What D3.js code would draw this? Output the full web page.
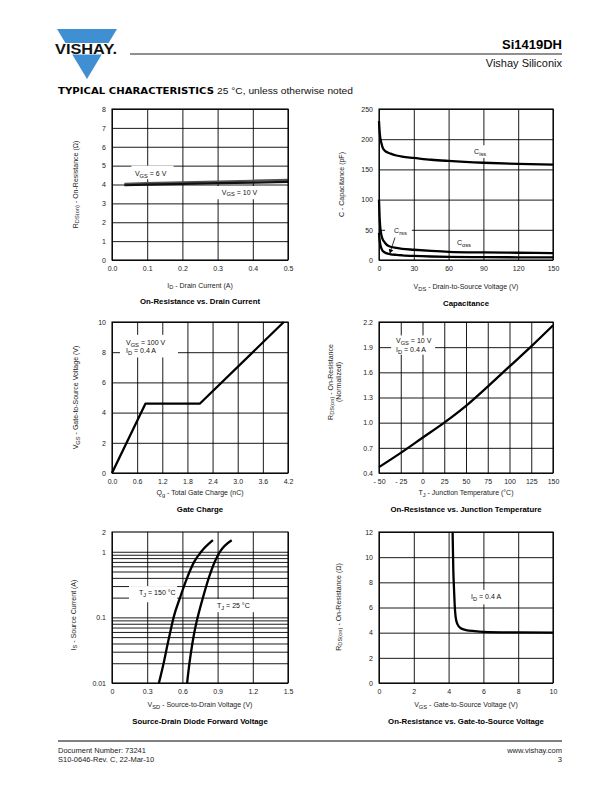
<!DOCTYPE html>
<html>
<head>
<meta charset="utf-8">
<script src="https://cdn.jsdelivr.net/npm/d3@7"></script>
<style>
  body { margin: 0; background: #fff; }
</style>
</head>
<body>
<div id="page"></div>
<script>
// ---- data ----

// On-Resistance vs. Drain Current
const drainCurrent = [0.035, 0.1, 0.2, 0.3, 0.4, 0.5];
const rdsVgs6 = [4.04, 4.07, 4.11, 4.16, 4.20, 4.24];
const rdsVgs10 = [3.96, 3.99, 4.03, 4.07, 4.10, 4.14];

// Capacitance
const capVds = [0, 0.5, 1, 2, 3, 5, 7.5, 10, 15, 20, 30, 45, 60, 90, 120, 150];
const ciss = [230, 214, 204, 194, 187, 181, 178, 176, 173, 171, 169, 166, 164, 161, 159, 158];
const coss = [100, 72, 56, 42, 35, 29, 24, 22, 20, 18.5, 17, 15, 13.5, 12.5, 12, 11.5];
const crss = [45, 34, 27, 19.5, 15.5, 12.5, 10.5, 9.5, 8.5, 7.8, 6.8, 5.8, 5.2, 4.8, 4.5, 4.3];

// Gate Charge
const gateCharge = [0, 0.8, 2.1, 4.1];
const gateVoltage = [0, 4.6, 4.6, 10];

// On-Resistance vs. Junction Temperature
const junctionTemp = [-50, -25, 0, 25, 50, 75, 100, 125, 150];
const rdsNormalized = [0.47, 0.64, 0.82, 1.0, 1.2, 1.43, 1.67, 1.91, 2.16];

// Source-Drain Diode Forward Voltage
const isCurrent = [0.01, 0.02, 0.04, 0.07, 0.1, 0.2, 0.4, 0.7, 1.0, 1.5];
const vsd150 = [0.40, 0.44, 0.475, 0.505, 0.525, 0.58, 0.64, 0.70, 0.76, 0.86];
const vsd25 = [0.64, 0.66, 0.685, 0.71, 0.73, 0.775, 0.825, 0.875, 0.92, 1.02];

// On-Resistance vs. Gate-to-Source Voltage
const gsVoltage = [4.23, 4.27, 4.31, 4.35, 4.4, 4.5, 4.7, 5, 5.5, 6, 8, 10];
const rdsVsVgs = [12, 9, 7.5, 6.2, 5.3, 4.7, 4.35, 4.2, 4.12, 4.07, 4.02, 4.0];

// ---- drawing ----
const FONT = "'Liberation Sans', Arial, Helvetica, sans-serif";
const BLUE = '#3f8fd2';

const svg = d3.select('#page').append('svg')
  .attr('width', 612).attr('height', 792)
  .style('background', '#fff');

// text with subscripts: parts like ['R', ['DS(on)'], ' - On-Resistance']
function rich(parent, x, y, parts, size, opts = {}) {
  const t = parent.append('text')
    .attr('x', x).attr('y', y)
    .attr('font-family', FONT)
    .attr('font-size', size)
    .attr('fill', opts.fill || '#222')
    .attr('text-anchor', opts.anchor || 'middle');
  if (opts.bold) t.attr('font-weight', 'bold');
  if (opts.rotate) t.attr('transform', `rotate(-90,${x},${y})`);
  let down = false;
  parts.forEach(p => {
    const sub = Array.isArray(p);
    const s = t.append('tspan').text(sub ? p[0] : p);
    if (sub) {
      s.attr('font-size', size * 0.82);
      if (!down) { s.attr('dy', size * 0.28); down = true; }
    } else if (down) {
      s.attr('dy', -size * 0.28); down = false;
    }
  });
  return t;
}

function panel(o) {
  const x = d3.scaleLinear().domain(o.xDom).range([o.left, o.right]);
  const y = (o.log ? d3.scaleLog() : d3.scaleLinear()).domain(o.yDom).range([o.bottom, o.top]);
  const g = svg.append('g');
  const w = o.right - o.left, h = o.bottom - o.top;

  // vertical grid and x tick labels
  g.append('g')
    .attr('transform', `translate(0,${o.bottom})`)
    .call(d3.axisBottom(x).tickValues(o.xTicks).tickSize(-h).tickSizeOuter(0)
      .tickPadding(6).tickFormat((d, i) => o.xLabels[i]))
    .call(s => s.select('.domain').remove())
    .call(s => s.selectAll('line').attr('stroke', '#000').attr('stroke-width', 0.9))
    .call(s => s.selectAll('text').attr('font-size', 7).attr('font-family', FONT).attr('fill', '#222'));

  // horizontal grid
  g.append('g')
    .attr('transform', `translate(${o.left},0)`)
    .call(d3.axisLeft(y).tickValues(o.yGrid || o.yTicks).tickSize(-w).tickSizeOuter(0).tickFormat(''))
    .call(s => s.select('.domain').remove())
    .call(s => s.selectAll('line').attr('stroke', '#000').attr('stroke-width', 0.9));

  // y tick labels
  g.append('g')
    .attr('transform', `translate(${o.left},0)`)
    .call(d3.axisLeft(y).tickValues(o.yTicks).tickSize(0).tickPadding(6)
      .tickFormat((d, i) => o.yLabels[i]))
    .call(s => s.select('.domain').remove())
    .call(s => s.selectAll('text').attr('font-size', 7).attr('font-family', FONT).attr('fill', '#222'));

  const notes = svg.append('g');
  const marks = svg.append('g');
  svg.append('rect')
    .attr('x', o.left).attr('y', o.top).attr('width', w).attr('height', h)
    .attr('fill', 'none').attr('stroke', '#000').attr('stroke-width', 1.1);

  // white box behind an annotation (cuts the grid)
  function box(xa, xb, ya, yb) {
    notes.append('rect')
      .attr('x', Math.min(x(xa), x(xb))).attr('y', Math.min(y(ya), y(yb)))
      .attr('width', Math.abs(x(xb) - x(xa))).attr('height', Math.abs(y(yb) - y(ya)))
      .attr('fill', '#fff');
  }
  function curve(xs, ys, opts = {}) {
    const line = d3.line().x(d => x(d[0])).y(d => y(d[1]))
      .curve(opts.linear ? d3.curveLinear : d3.curveMonotoneX);
    marks.append('path')
      .attr('d', line(xs.map((v, i) => [v, ys[i]])))
      .attr('fill', 'none')
      .attr('stroke', opts.color || '#000')
      .attr('stroke-width', opts.width || 2.3)
      .attr('stroke-linejoin', 'round');
  }
  function label(xv, yv, parts, size = 7) {
    return rich(marks, x(xv), y(yv), parts, size, { anchor: 'start', fill: '#111' });
  }
  return { x, y, box, curve, label, marks };
}

function titles(o, xTitle, yTitle, title, yTitleX, yTitleY, rowTitleY) {
  const cx = (o.left + o.right) / 2;
  rich(svg, cx, rowTitleY, xTitle, 7);
  rich(svg, cx, rowTitleY + 16.5, [title], 7.8, { bold: true, fill: '#000' });
  if (yTitle) rich(svg, yTitleX, yTitleY, yTitle, 7, { rotate: true });
}

const L = { left: 112, right: 288 };
const R = { left: 379, right: 553 };
const ROW1 = { top: 109, bottom: 260 };
const ROW2 = { top: 322, bottom: 473 };
const ROW3 = { top: 532, bottom: 683 };

// ---------- 1. On-Resistance vs. Drain Current ----------
{
  const o = Object.assign({}, L, ROW1, {
    xDom: [0, 0.5], yDom: [0, 8],
    xTicks: [0, 0.1, 0.2, 0.3, 0.4, 0.5], xLabels: ['0.0', '0.1', '0.2', '0.3', '0.4', '0.5'],
    yTicks: d3.range(0, 9), yLabels: d3.range(0, 9).map(String)
  });
  const p = panel(o);
  p.box(0.055, 0.175, 5.0, 4.28);
  p.box(0.295, 0.418, 3.92, 3.22);
  p.curve(drainCurrent, rdsVgs6, { color: '#555', width: 2.2, linear: true });
  p.curve(drainCurrent, rdsVgs10, { color: '#111', width: 2.2, linear: true });
  p.label(0.065, 4.45, ['V', ['GS'], ' = 6 V']);
  p.label(0.312, 3.47, ['V', ['GS'], ' = 10 V']);
  titles(o, ['I', ['D'], ' - Drain Current (A)'], ['R', ['DS(on)'], ' - On-Resistance (Ω)'],
    'On-Resistance vs. Drain Current', 77.5, 184.5, 287.5);
}

// ---------- 2. Capacitance ----------
{
  const o = Object.assign({}, R, ROW1, {
    xDom: [0, 150], yDom: [0, 250],
    xTicks: [0, 30, 60, 90, 120, 150], xLabels: ['0', '30', '60', '90', '120', '150'],
    yTicks: [0, 50, 100, 150, 200, 250], yLabels: ['0', '50', '100', '150', '200', '250']
  });
  const p = panel(o);
  p.box(79.5, 96.5, 190, 169);
  p.box(5.2, 28.4, 56, 36.5);
  p.curve(capVds, ciss);
  p.curve(capVds, coss);
  p.curve(capVds, crss);
  p.label(82, 175.5, ['C', ['iss']]);
  p.label(13, 44, ['C', ['rss']]);
  p.label(67.2, 24.8, ['C', ['oss']]);
  // pointer from the Crss label down to its curve
  p.marks.append('line')
    .attr('x1', p.x(13.8)).attr('y1', p.y(37.3))
    .attr('x2', p.x(10.2)).attr('y2', p.y(16.5))
    .attr('stroke', '#000').attr('stroke-width', 0.8);
  p.marks.append('path')
    .attr('d', d3.symbol(d3.symbolTriangle, 10)())
    .attr('transform', `translate(${p.x(10.0)},${p.y(15.2)}) rotate(198)`)
    .attr('fill', '#000');
  titles(o, ['V', ['DS'], ' - Drain-to-Source Voltage (V)'], ['C - Capacitance (pF)'],
    'Capacitance', 343.5, 184.5, 289);
}

// ---------- 3. Gate Charge ----------
{
  const o = Object.assign({}, L, ROW2, {
    xDom: [0, 4.2], yDom: [0, 10],
    xTicks: [0, 0.6, 1.2, 1.8, 2.4, 3.0, 3.6, 4.2],
    xLabels: ['0.0', '0.6', '1.2', '1.8', '2.4', '3.0', '3.6', '4.2'],
    yTicks: [0, 2, 4, 6, 8, 10], yLabels: ['0', '2', '4', '6', '8', '10']
  });
  const p = panel(o);
  p.box(0.19, 1.575, 9.15, 7.65);
  p.curve(gateCharge, gateVoltage, { linear: true });
  p.label(0.334, 8.5, ['V', ['GS'], ' = 100 V']);
  p.label(0.334, 7.93, ['I', ['D'], ' = 0.4 A']);
  titles(o, ['Q', ['g'], ' - Total Gate Charge (nC)'], ['V', ['GS'], ' - Gate-to-Source Voltage (V)'],
    'Gate Charge', 78, 397.5, 495);
}

// ---------- 4. On-Resistance vs. Junction Temperature ----------
{
  const o = Object.assign({}, R, ROW2, {
    xDom: [-50, 150], yDom: [0.4, 2.2],
    xTicks: [-50, -25, 0, 25, 50, 75, 100, 125, 150],
    xLabels: ['- 50', '- 25', '0', '25', '50', '75', '100', '125', '150'],
    yTicks: [0.4, 0.7, 1.0, 1.3, 1.6, 1.9, 2.2],
    yLabels: ['0.4', '0.7', '1.0', '1.3', '1.6', '1.9', '2.2']
  });
  const p = panel(o);
  p.box(-36, 14.5, 2.04, 1.81);
  p.curve(junctionTemp, rdsNormalized);
  p.label(-30.5, 1.945, ['V', ['GS'], ' = 10 V']);
  p.label(-30.5, 1.845, ['I', ['D'], ' = 0.4 A']);
  titles(o, ['T', ['J'], ' - Junction Temperature (°C)'], null,
    'On-Resistance vs. Junction Temperature', 0, 0, 495);
  rich(svg, 332.5, 382, ['R', ['DS(on)'], ' - On-Resistance'], 7, { rotate: true });
  rich(svg, 341, 382, ['(Normalized)'], 7, { rotate: true });
}

// ---------- 5. Source-Drain Diode Forward Voltage ----------
{
  const minor = [];
  [0.01, 0.1].forEach(dec => d3.range(1, 10).forEach(k => minor.push(dec * k)));
  minor.push(1);
  const o = Object.assign({}, L, ROW3, {
    log: true,
    xDom: [0, 1.5], yDom: [0.01, 2],
    xTicks: [0, 0.3, 0.6, 0.9, 1.2, 1.5], xLabels: ['0', '0.3', '0.6', '0.9', '1.2', '1.5'],
    yTicks: [0.01, 0.1, 1, 2], yLabels: ['0.01', '0.1', '1', '2'],
    yGrid: minor
  });
  const p = panel(o);
  p.box(0.145, 0.555, 0.3, 0.17);
  p.box(0.86, 1.23, 0.19, 0.12);
  p.curve(vsd150, isCurrent);
  p.curve(vsd25, isCurrent);
  p.label(0.23, 0.222, ['T', ['J'], ' = 150 °C']);
  p.label(0.895, 0.138, ['T', ['J'], ' = 25 °C']);
  titles(o, ['V', ['SD'], ' - Source-to-Drain Voltage (V)'], ['I', ['S'], ' - Source Current (A)'],
    'Source-Drain Diode Forward Voltage', 75.5, 615, 707);
}

// ---------- 6. On-Resistance vs. Gate-to-Source Voltage ----------
{
  const o = Object.assign({}, R, ROW3, {
    xDom: [0, 10], yDom: [0, 12],
    xTicks: [0, 2, 4, 6, 8, 10], xLabels: ['0', '2', '4', '6', '8', '10'],
    yTicks: [0, 2, 4, 6, 8, 10, 12], yLabels: ['0', '2', '4', '6', '8', '10', '12']
  });
  const p = panel(o);
  p.box(5.05, 6.95, 7.4, 6.25);
  p.curve(gsVoltage, rdsVsVgs);
  p.label(5.29, 6.68, ['I', ['D'], ' = 0.4 A']);
  titles(o, ['V', ['GS'], ' - Gate-to-Source Voltage (V)'], ['R', ['DS(on)'], ' - On-Resistance (Ω)'],
    'On-Resistance vs. Gate-to-Source Voltage', 340.5, 607, 707);
}

// ---------- page header ----------
svg.append('path')
  .attr('d', 'M57,29 L117,29 L87,79 Z')
  .attr('fill', BLUE);
svg.append('rect').attr('x', 50).attr('y', 43).attr('width', 72).attr('height', 11.5).attr('fill', '#fff');
svg.append('text')
  .attr('x', 55).attr('y', 54)
  .attr('font-family', FONT).attr('font-weight', 'bold').attr('font-size', 14.5)
  .attr('textLength', 62).attr('lengthAdjust', 'spacingAndGlyphs')
  .attr('fill', '#111')
  .text('VISHAY.');
svg.append('line')
  .attr('x1', 130).attr('x2', 562).attr('y1', 54).attr('y2', 54)
  .attr('stroke', '#222').attr('stroke-width', 1.2);
svg.append('text')
  .attr('x', 562).attr('y', 49).attr('text-anchor', 'end')
  .attr('font-family', FONT).attr('font-weight', 'bold').attr('font-size', 13)
  .attr('fill', '#000').text('Si1419DH');
svg.append('text')
  .attr('x', 562).attr('y', 67).attr('text-anchor', 'end')
  .attr('font-family', FONT).attr('font-size', 11)
  .attr('fill', '#111').text('Vishay Siliconix');

svg.append('text')
  .attr('x', 58).attr('y', 94)
  .attr('font-family', "'DejaVu Sans', sans-serif").attr('font-weight', 'bold').attr('font-size', 9.5)
  .attr('textLength', 156).attr('lengthAdjust', 'spacingAndGlyphs')
  .attr('fill', '#000').text('TYPICAL CHARACTERISTICS');
svg.append('text')
  .attr('x', 217).attr('y', 94)
  .attr('font-family', FONT).attr('font-size', 9)
  .attr('textLength', 136).attr('lengthAdjust', 'spacingAndGlyphs')
  .attr('fill', '#111').text('25 °C, unless otherwise noted');

// ---------- page footer ----------
svg.append('line')
  .attr('x1', 58).attr('x2', 562).attr('y1', 741).attr('y2', 741)
  .attr('stroke', '#000').attr('stroke-width', 1);
const footL = ['Document Number: 73241', 'S10-0646-Rev. C, 22-Mar-10'];
const footR = ['www.vishay.com', '3'];
footL.forEach((s, i) => svg.append('text')
  .attr('x', 58).attr('y', 753 + i * 9)
  .attr('font-family', FONT).attr('font-size', 7.5).attr('fill', '#222').text(s));
footR.forEach((s, i) => svg.append('text')
  .attr('x', 562).attr('y', 753 + i * 9).attr('text-anchor', 'end')
  .attr('font-family', FONT).attr('font-size', 7.5).attr('fill', '#222').text(s));
</script>
</body>
</html>
